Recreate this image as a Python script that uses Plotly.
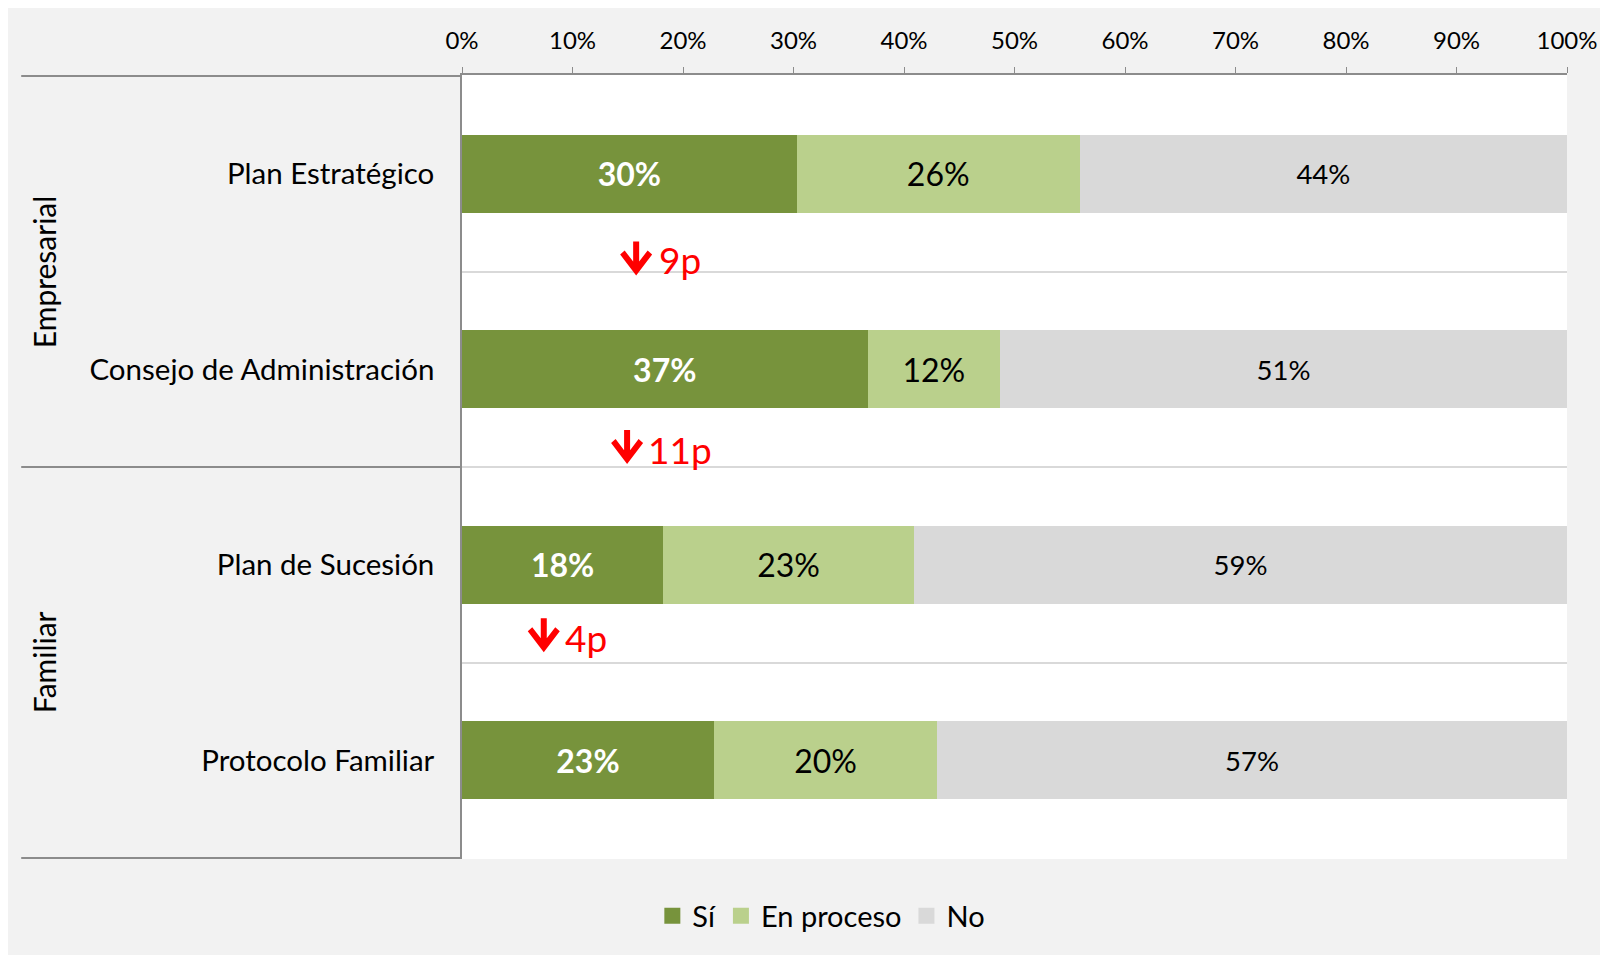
import plotly.graph_objects as go

categories = ["Plan Estratégico", "Consejo de Administración", "Plan de Sucesión", "Protocolo Familiar"]
groups = ["Empresarial", "Familiar"]
group_centers = [0.5, 2.5]
series_names = ["Sí", "En proceso", "No"]
si = [30.3, 36.7, 18.2, 22.8]
en_proceso = [25.6, 12.0, 22.7, 20.2]
no = [44.1, 51.3, 59.1, 57.0]
change_labels = ["9p", "11p", "4p"]
change_label_x = [17.68, 16.69, 9.15]
change_label_y = [0.44, 1.41, 2.37]
change_arrow_x = [15.76, 14.94, 7.40]
change_arrow_y = [0.515, 1.48, 2.442]
tick_vals = [0, 10, 20, 30, 40, 50, 60, 70, 80, 90, 100]
tick_text = [f"{v}%" for v in tick_vals]

FONT = "Lato, Carlito, Calibri, sans-serif"
C_SI = "#77933c"
C_EP = "#bad08c"
C_NO = "#d9d9d9"
AX = "#8c8c8c"
RED = "#ff0000"
colors = [C_SI, C_EP, C_NO]
label_fonts = [
    dict(family=FONT, size=32, color="white", weight="bold"),
    dict(family=FONT, size=32, color="black"),
    dict(family=FONT, size=27.5, color="black"),
]

fig = go.Figure()
for name, vals, col, tf in zip(series_names, [si, en_proceso, no], colors, label_fonts):
    fig.add_trace(go.Bar(y=categories, x=vals, name=name, orientation="h",
                         marker=dict(color=col, line_width=0), showlegend=False,
                         texttemplate="%{x:.0f}%", textposition="inside", insidetextanchor="middle",
                         textangle=0, textfont=tf, hoverinfo="skip"))
# legend proxies with larger square symbols
for name, col in zip(series_names, colors):
    fig.add_trace(go.Scatter(x=[None], y=[None], mode="markers", name=name,
                             marker=dict(symbol="square", size=17, color=col), showlegend=True))

W, H = 1608, 955
L, R, T, B = 453.5, W - 1559, 67, H - 851
pw = W - L - R
ph = H - T - B

def px_x(p):
    return (p - L) / pw

def px_y(p):
    return (H - B - p) / ph

shapes = []
for yv in [-0.5, 1.5, 3.5]:
    shapes.append(dict(type="line", xref="paper", yref="y", x0=px_x(12.5), x1=0, y0=yv, y1=yv,
                       line=dict(color=AX, width=2)))

# thick down-arrow glyph (pixel-sized path anchored at its tip)
ARROW_PATH = "M 0,-1 L -16,20 L -11.5,24 L -3,12.85 L -3,33 L 3,33 L 3,12.85 L 11.5,24 L 16,20 Z"
for ax_, ay_ in zip(change_arrow_x, change_arrow_y):
    shapes.append(dict(type="path", xref="x", yref="y", xsizemode="pixel", ysizemode="pixel",
                       xanchor=ax_, yanchor=ay_, path=ARROW_PATH, fillcolor=RED, line_width=0))

annotations = []
for g, yc in zip(groups, group_centers):
    annotations.append(dict(text=g, xref="paper", yref="y", x=px_x(35), y=yc, textangle=-90, showarrow=False,
                            font=dict(family=FONT, size=30, color="black"), xanchor="center", yanchor="middle"))
for lab, xv, yv in zip(change_labels, change_label_x, change_label_y):
    annotations.append(dict(text=lab, xref="x", yref="y", x=xv, y=yv, showarrow=False,
                            font=dict(family=FONT, size=37, color=RED), xanchor="left", yanchor="middle"))

fig.update_layout(
    width=W, height=H,
    barmode="stack", bargap=0.6,
    paper_bgcolor="#f2f2f2", plot_bgcolor="white",
    margin=dict(l=L, r=R, t=T, b=B, pad=0),
    font=dict(family=FONT, color="black"),
    shapes=shapes, annotations=annotations,
    showlegend=True,
    legend=dict(orientation="h", x=px_x(813), y=px_y(908), xanchor="center", yanchor="middle",
                font=dict(family=FONT, size=29, color="black"), bgcolor="rgba(0,0,0,0)",
                traceorder="normal", itemwidth=30),
    xaxis=dict(side="top", range=[0, 100], tickvals=tick_vals, ticktext=tick_text,
               showgrid=False, zeroline=False, showline=True, linecolor=AX, linewidth=2,
               ticks="outside", ticklen=6, tickcolor=AX, tickwidth=1, ticklabelstandoff=8,
               tickfont=dict(family=FONT, size=24, color="black"), fixedrange=True),
    yaxis=dict(type="category", categoryorder="array", categoryarray=categories, autorange="reversed",
               tickson="boundaries", ticks="", showgrid=True, gridcolor=C_NO, gridwidth=2,
               showline=True, linecolor=AX, linewidth=1.5, zeroline=False,
               ticklabelstandoff=20,
               tickfont=dict(family=FONT, size=29.5, color="black"), fixedrange=True),
)

fig.write_html("out.html")
